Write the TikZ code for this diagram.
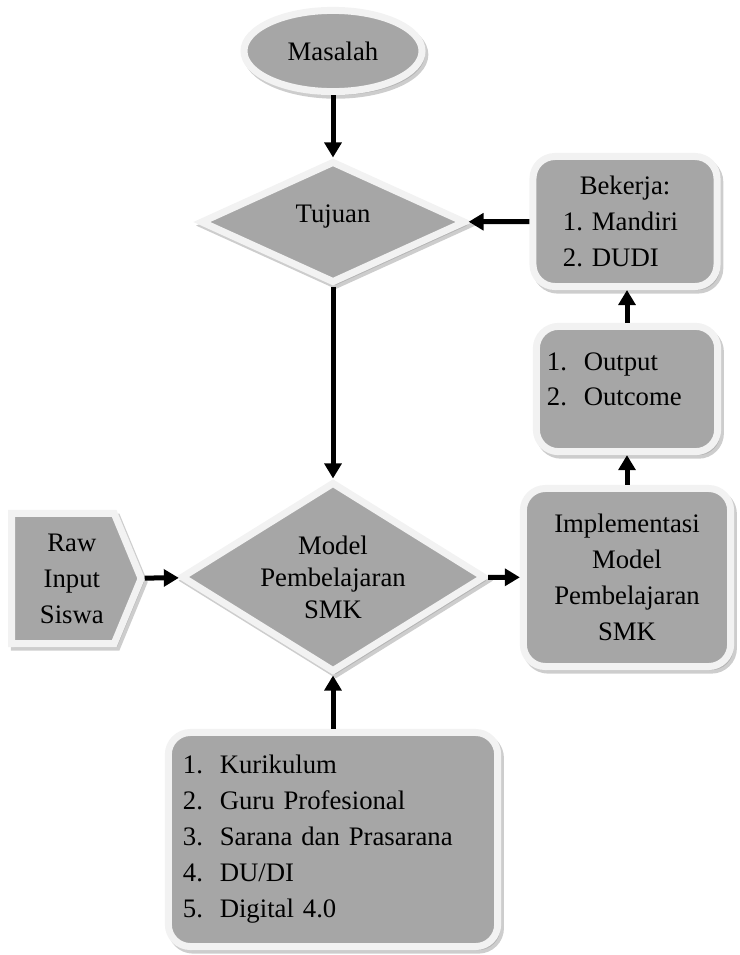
\documentclass[tikz,border=0pt]{standalone}
\usepackage{fontspec}
\setmainfont{Liberation Serif}
\usetikzlibrary{shapes.geometric,shapes.symbols,shadows,arrows.meta}
\definecolor{isian}{HTML}{A6A6A6}
\definecolor{tepi}{HTML}{F2F2F2}
\definecolor{bayang}{HTML}{9C9C9C}
\newcommand{\butir}[2]{\makebox[0.92cm][l]{#1}#2}
\begin{document}
\begin{tikzpicture}[x=0.025cm,y=-0.025cm,
				every node/.style={fill=isian,draw=tepi,line width=0.175cm,align=center,
					font=\fontsize{19pt}{25.6pt}\selectfont,
					drop shadow={shadow xshift=0.07cm,shadow yshift=-0.09cm,fill=bayang,draw=bayang,line width=0.175cm}},
				kotak/.style={rectangle,rounded corners=0.55cm},
				belah/.style={diamond,inner sep=0pt},
				panah/.style={line width=0.125cm,-{Triangle[length=0.375cm,width=0.42cm]}}]
\useasboundingbox (0,0) rectangle (740,955);
\node[ellipse,minimum width=4.45cm,minimum height=2.03cm] (masalah) at (333,51) {Masalah};
\node[belah,aspect=2.15,minimum width=6.63cm,minimum height=3.05cm] (tujuan) at (333,222)
	{\raisebox{0pt}[0pt][0pt]{Tujuan}};
\node[belah,aspect=1.6,minimum width=7.6cm,minimum height=4.75cm,
	font=\fontsize{19pt}{22.8pt}\selectfont] (model) at (333,577) {Model\\Pembelajaran\\SMK};
\node[signal,signal to=east,signal pointer angle=135,minimum width=3.24cm,minimum height=3.25cm,
	anchor=west] (raw) at (8,578.5)
	{\hspace*{0.45cm}Raw\\\hspace*{0.45cm}Input\\\hspace*{0.45cm}Siswa};
\node[kotak,minimum width=5.18cm,minimum height=4.45cm] (impl) at (627,577.5)
	{Implementasi\\Model\\Pembelajaran\\SMK};
\node[kotak,minimum width=4.53cm,minimum height=3.13cm,text width=4cm,align=left,
	text height=0.5cm,text depth=1.45cm] (output) at (627,389)
	{\butir{1.}{Output}\\\butir{2.}{Outcome}};
\node[kotak,minimum width=4.6cm,minimum height=3.25cm,text width=3.1cm,align=left] (bekerja) at (625,221.5)
	{\hspace*{0.42cm}Bekerja:\\1.\ Mandiri\\2.\ DUDI};
\node[kotak,minimum width=8.23cm,minimum height=5.35cm,text width=7.5cm,align=left] (daftar) at (333,839.5)
	{\butir{1.}{Kurikulum}\\\butir{2.}{Guru Profesional}\\\butir{3.}{Sarana dan Prasarana}\\
	\butir{4.}{DU/DI}\\\butir{5.}{Digital 4.0}};
\draw[panah] (masalah) -- (tujuan);
\draw[panah] (bekerja) -- (tujuan);
\draw[panah] (tujuan) -- (model);
\draw[panah] (raw) -- (model);
\draw[panah] (model) -- (impl);
\draw[panah] (impl) -- (output);
\draw[panah] (output.north) -- (output.north |- bekerja.south);
\draw[panah] (daftar) -- (model);
\end{tikzpicture}
\end{document}
